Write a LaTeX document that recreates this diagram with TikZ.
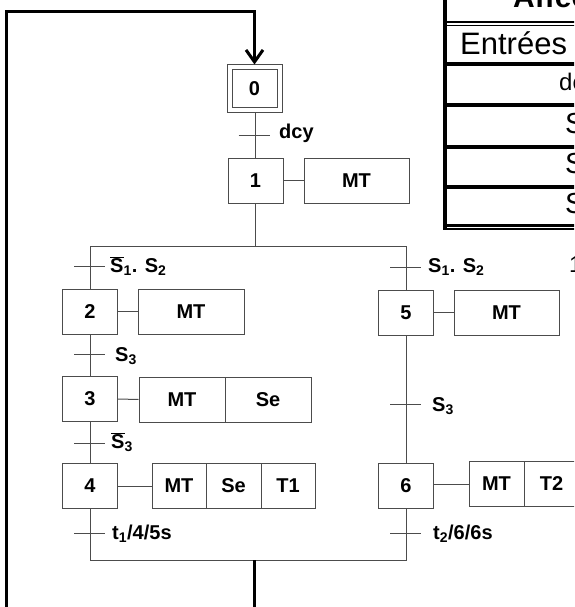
\documentclass[tikz,border=0pt]{standalone}
\usepackage{fontspec}
\setmainfont{Liberation Sans}
\usetikzlibrary{arrows.meta}
\definecolor{linecol}{gray}{0.3}
\tikzset{
  lblfont/.style={font=\fontsize{20}{24}\selectfont\bfseries},
  stepbox/.style={draw=linecol, line width=1pt, minimum width=55pt, minimum height=45pt, inner sep=0pt, lblfont},
  actbox/.style={draw=linecol, line width=1pt, minimum height=45pt, inner sep=0pt, lblfont},
  wire/.style={draw=linecol, line width=1pt},
  loopline/.style={draw=black, line width=3pt},
  lbl/.style={anchor=west, inner sep=0pt, lblfont},
  tabline/.style={draw=black, line width=4pt},
  tabtext/.style={anchor=base west, inner sep=0pt},
}
\newcommand{\nS}{$\overline{\mbox{S}}$}
\begin{document}
\begin{tikzpicture}[x=1pt,y=-1pt]
\useasboundingbox (0,0) rectangle (574,607);
\clip (0,0) rectangle (574,607);

% ---- table (top right) ----
\draw[tabline] (445,-5) -- (445,229.5);
\draw[draw=black, line width=2.5pt] (443,22) -- (600,22);
\draw[draw=black, line width=1.2pt] (443,25.5) -- (600,25.5);
\foreach \yy in {64,105,146.5,186.5} {\draw[tabline] (443,\yy) -- (600,\yy);}
\draw[draw=black, line width=2.5pt] (443,225.5) -- (600,225.5);
\draw[draw=black, line width=1.5pt] (443,229) -- (600,229);
\node[tabtext, font=\fontsize{30}{34}\selectfont\bfseries] (ttitle) at (513,8) {Affectation};
\node[tabtext, font=\fontsize{31}{36}\selectfont] (tent) at (460,55) {Entrées};
\node[tabtext, font=\fontsize{24}{28}\selectfont] (tdcy) at (559,91) {dcy};
\node[tabtext, font=\fontsize{29}{33}\selectfont] (ts1) at (565,133) {S1};
\node[tabtext, font=\fontsize{29}{33}\selectfont] (ts2) at (565,173) {S2};
\node[tabtext, font=\fontsize{29}{33}\selectfont] (ts3) at (565,213) {S3};
\node[tabtext, font=\fontsize{23}{27}\selectfont] (tone) at (569,272) {1};

% ---- steps ----
\node[stepbox, minimum width=55pt, minimum height=48pt] (s0) at (254.5,89) {};
\node[draw=linecol, line width=1pt, minimum width=45pt, minimum height=38pt, inner sep=0pt, lblfont] (s0i) at (254.5,89) {0};
\node[stepbox] (s1) at (255.5,180.5) {1};
\node[actbox, minimum width=105pt] (a1) at (356.5,180.5) {MT};

\node[stepbox] (s2) at (90,311.5) {2};
\node[actbox, minimum width=106pt] (a2) at (191,311.5) {MT};

\node[stepbox] (s3) at (90,399) {3};
\node[actbox, minimum width=86pt] (a3a) at (182,399.5) {MT};
\node[actbox, minimum width=86pt] (a3b) at (268,399.5) {Se};

\node[stepbox] (s4) at (90,486) {4};
\node[actbox, minimum width=54pt] (a4a) at (179,486) {MT};
\node[actbox, minimum width=55pt] (a4b) at (233.5,486) {Se};
\node[actbox, minimum width=54pt] (a4c) at (288,486) {T1};

\node[stepbox] (s5) at (406,312.5) {5};
\node[actbox, minimum width=105pt] (a5) at (506.5,312.5) {MT};

\node[stepbox] (s6) at (406,486) {6};
\node[actbox, minimum width=55pt] (a6a) at (496.5,484) {MT};
\node[actbox, minimum width=55pt] (a6b) at (551.5,484) {T2};

% ---- action links ----
\draw[wire] (s1.east) -- (a1.west);
\draw[wire] (s2.east) -- (a2.west);
\draw[wire] (s3.east) -- (a3a.west);
\draw[wire] (s4.east) -- (a4a.west);
\draw[wire] (s5.east) -- (a5.west);
\draw[wire] (s6.east |- a6a.west) -- (a6a.west);

% ---- sequence links ----
\draw[wire] (s0.south -| s1.north) -- (s1.north);
\coordinate (dv) at (255.5,246);
\coordinate (dvl) at (90,246);
\coordinate (dvr) at (406,246);
\draw[wire] (s1.south) -- (dv);
\draw[wire] (dvl) -- (dvr);
\draw[wire] (dvl) -- (s2.north);
\draw[wire] (dvr) -- (s5.north);
\draw[wire] (s2.south) -- (s3.north);
\draw[wire] (s3.south) -- (s4.north);
\draw[wire] (s5.south) -- (s6.north);
\coordinate (cvl) at (90,560);
\coordinate (cvr) at (406,560);
\coordinate (cv) at (254,560);
\draw[wire] (s4.south) -- (cvl) -- (cvr) -- (s6.south);

% ---- transitions ----
\coordinate (t0) at (254.5,135);
\coordinate (t1) at (90,266);
\coordinate (t2) at (406,267);
\coordinate (t3) at (90,354);
\coordinate (t4) at (406,404);
\coordinate (t5) at (90,443);
\coordinate (t6) at (90,533);
\coordinate (t7) at (406,533);
\foreach \t in {t0,t1,t2,t3,t4,t5,t6,t7} {\draw[wire] ([xshift=-16pt]\t) -- ([xshift=15pt]\t);}
\node[lbl] (l0) at (279,133) {dcy};
\node[lbl] (l1) at (110,266) {\nS\textsubscript{1}. S\textsubscript{2}};
\node[lbl] (l2) at (428,267) {S\textsubscript{1}. S\textsubscript{2}};
\node[lbl] (l3) at (115,356) {S\textsubscript{3}};
\node[lbl] (l4) at (432,406) {S\textsubscript{3}};
\node[lbl] (l5) at (111,442) {\nS\textsubscript{3}};
\node[lbl] (l6) at (112,534) {t\textsubscript{1}/4/5s};
\node[lbl] (l7) at (433,534) {t\textsubscript{2}/6/6s};

% ---- loop back ----
\coordinate (lb) at (6,615);
\coordinate (lt) at (6,12);
\coordinate (rt) at (254.5,12);
\coordinate (bb) at (254,615);
\draw[loopline] (cv) -- (bb);
\draw[loopline, line cap=rect] (lb) -- (lt) -- (rt);
\draw[loopline, -{Straight Barb[length=12pt,width=17pt]}] (rt) -- (s0.north);
\end{tikzpicture}
\end{document}
